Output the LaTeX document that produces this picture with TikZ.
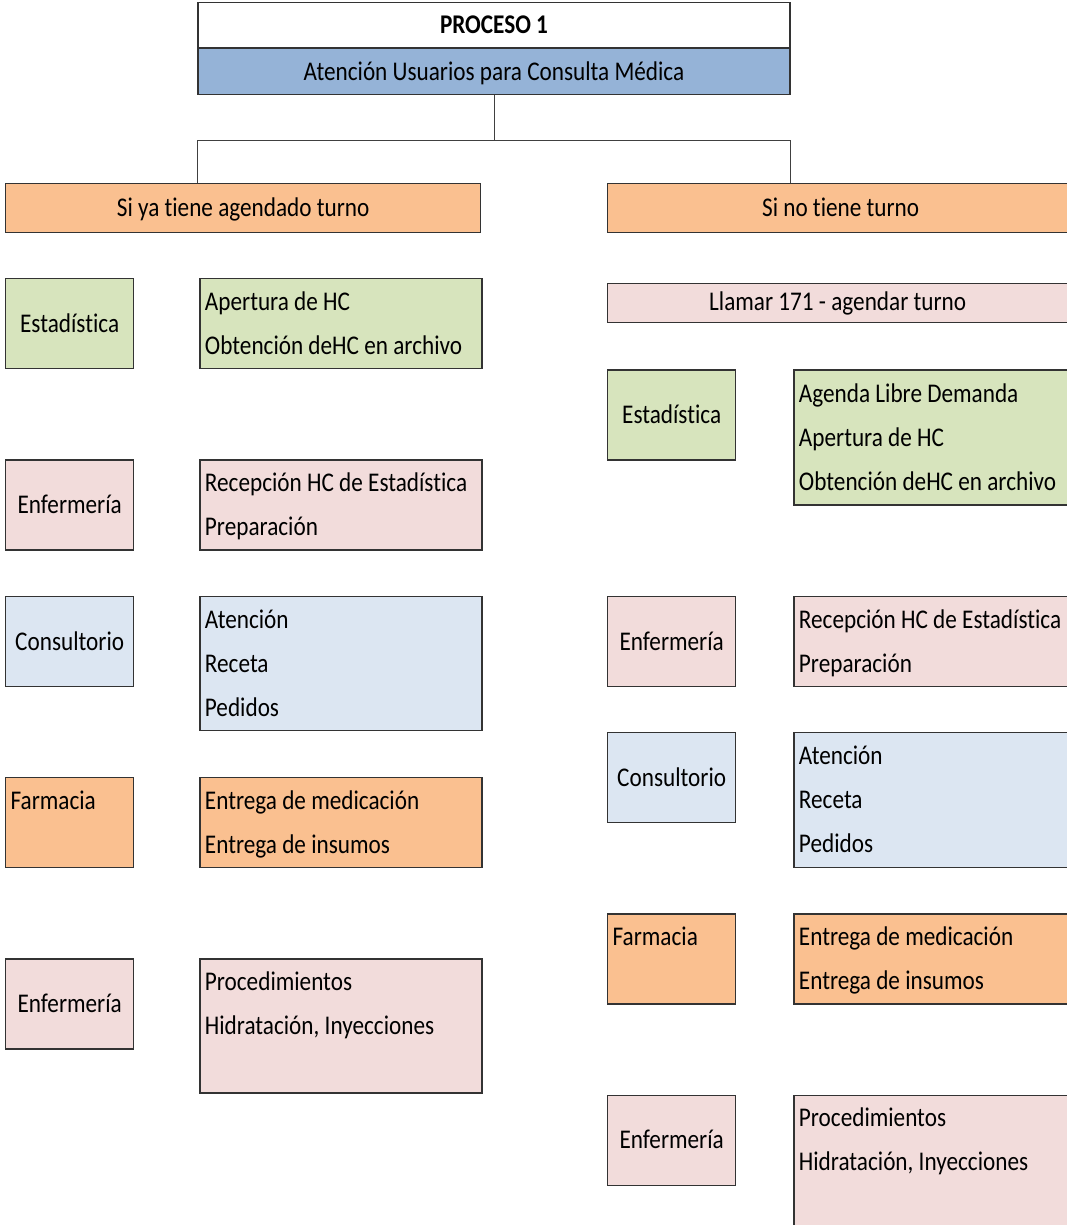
\documentclass[tikz,border=0pt]{standalone}
\usepackage{fontspec}
\setmainfont[FakeStretch=0.86,Ligatures=NoCommon]{Carlito}
\usepackage{xcolor}
\usepackage{tikz}
\usetikzlibrary{positioning}

\definecolor{naranja}{HTML}{FAC090}
\definecolor{verde}{HTML}{D7E4BD}
\definecolor{rosa}{HTML}{F2DCDB}
\definecolor{celeste}{HTML}{DCE6F2}
\definecolor{azul}{HTML}{95B3D7}

\begin{document}
\begin{tikzpicture}[x=1pt,y=-1pt,
  plain box/.style={draw=black!80,line width=1.3pt,inner sep=0pt,
    font=\fontsize{27}{44}\selectfont},
  box/.style={plain box,execute at begin node=\strut,execute at end node=\strut},
  title node/.style={box,minimum width=592pt,minimum height=45pt,align=flush center},
  header node/.style={box,fill=naranja,minimum height=49pt,align=flush center},
  area node/.style={box,minimum width=128pt,minimum height=90pt,align=flush center},
  task node/.style={box,text width=272pt,inner xsep=5pt,minimum height=90pt,align=flush left},
  link/.style={draw=black!75,line width=1pt}]

  \useasboundingbox (0,0) rectangle (1066,1225);

  % cabecera
  \node[title node,fill=white] (proc) at (494,25) {\bfseries PROCESO 1};
  \node[title node,fill=azul,minimum height=46pt] (aten) [below=0pt of proc] {Atención Usuarios para Consulta Médica};

  \node[header node,minimum width=475pt,anchor=north west] (conturno) at (5,183) {Si ya tiene agendado turno};
  \node[header node,minimum width=466pt,anchor=north west] (sinturno) at (607,183) {Si no tiene turno};

  % con turno
  \node[area node,fill=verde,anchor=north west] (est1) at (5,278) {Estadística};
  \node[area node,fill=rosa]    (enf1)  [below=90pt of est1]  {Enfermería};
  \node[area node,fill=celeste] (cons1) [below=45pt of enf1]  {Consultorio};
  \node[area node,fill=naranja,align=flush left,text width=118pt,inner xsep=5pt] (farm1) [below=90pt of cons1] {Farmacia\\ \mbox{}};
  \node[area node,fill=rosa]    (enf2)  [below=90pt of farm1] {Enfermería};

  \node[task node,fill=verde]   (est1t)  [right=65pt of est1.north east,anchor=north west]  {Apertura de HC\\Obtención deHC en archivo};
  \node[task node,fill=rosa]    (enf1t)  [right=65pt of enf1.north east,anchor=north west]  {Recepción HC de Estadística\\Preparación};
  \node[task node,fill=celeste,minimum height=134pt] (cons1t) [right=65pt of cons1.north east,anchor=north west] {Atención\\Receta\\Pedidos};
  \node[task node,fill=naranja] (farm1t) [right=65pt of farm1.north east,anchor=north west] {Entrega de medicación\\Entrega de insumos};
  \node[task node,fill=rosa,minimum height=134pt] (enf2t) [right=65pt of enf2.north east,anchor=north west] {Procedimientos\\Hidratación, Inyecciones\\ \mbox{}};

  % sin turno
  \node[plain box,fill=rosa,minimum width=466pt,minimum height=39pt,anchor=north west] (llamar) at (607,283) {\hspace*{-6pt}Llamar 171 - agendar turno};
  \node[area node,fill=verde]   (est2)  [below=46pt of llamar.south west,anchor=north west] {Estadística};
  \node[area node,fill=rosa]    (enf3)  [below=135pt of est2] {Enfermería};
  \node[area node,fill=celeste] (cons2) [below=45pt of enf3]  {Consultorio};
  \node[area node,fill=naranja,align=flush left,text width=118pt,inner xsep=5pt] (farm2) [below=90pt of cons2] {Farmacia\\ \mbox{}};
  \node[area node,fill=rosa]    (enf4)  [below=90pt of farm2] {Enfermería};

  \node[task node,fill=verde,minimum height=135pt] (est2t) [right=57pt of est2.north east,anchor=north west] {Agenda Libre Demanda\\Apertura de HC\\Obtención deHC en archivo};
  \node[task node,fill=rosa]    (enf3t)  [right=57pt of enf3.north east,anchor=north west]  {Recepción HC de Estadística\\Preparación};
  \node[task node,fill=celeste,minimum height=135pt] (cons2t) [right=57pt of cons2.north east,anchor=north west] {Atención\\Receta\\Pedidos};
  \node[task node,fill=naranja] (farm2t) [right=57pt of farm2.north east,anchor=north west] {Entrega de medicación\\Entrega de insumos};
  \node[task node,fill=rosa,minimum height=134pt] (enf4t) [right=57pt of enf4.north east,anchor=north west] {Procedimientos\\Hidratación, Inyecciones\\ \mbox{}};

  % conectores
  \coordinate (bajada) at ([yshift=-45pt]aten.south);
  \coordinate (izq) at (aten.south west |- conturno.north);
  \coordinate (der) at (aten.south east |- sinturno.north);
  \path[link] (aten.south) -- (bajada) -| (izq)
              (bajada) -| (der);
\end{tikzpicture}
\end{document}
